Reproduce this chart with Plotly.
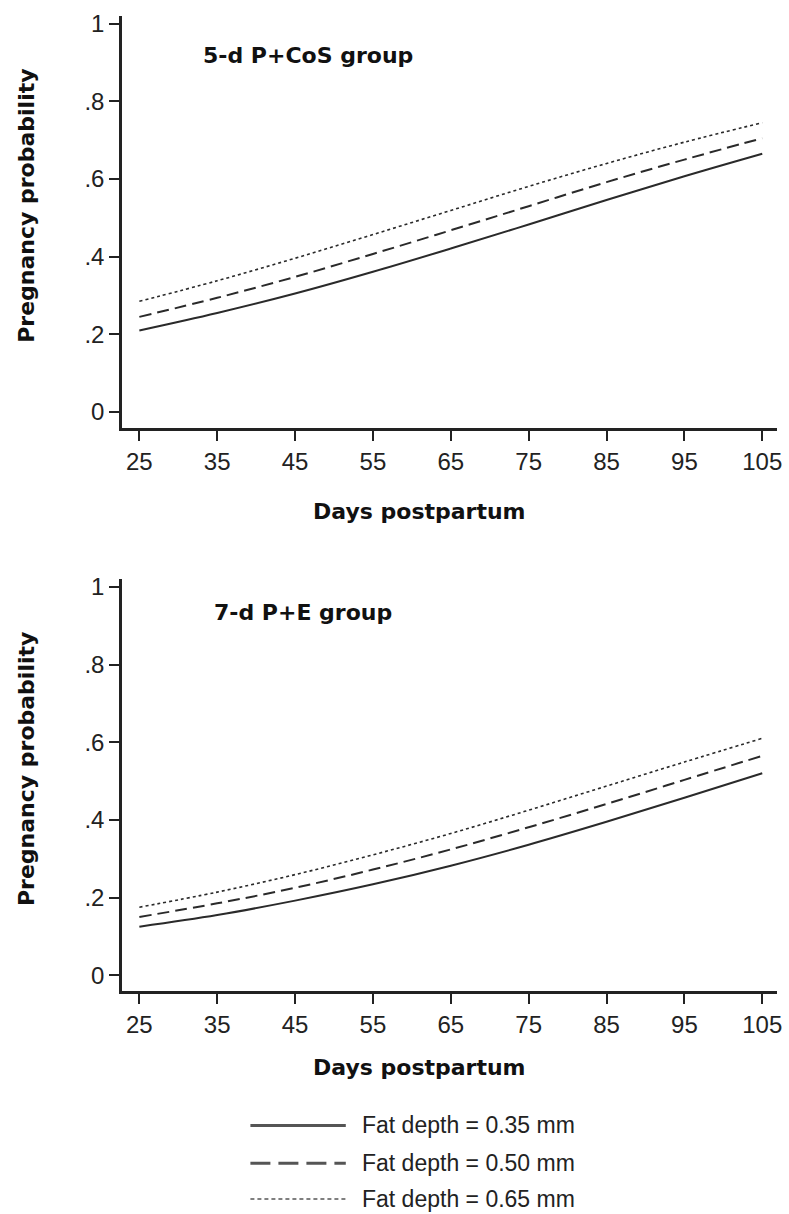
import plotly.graph_objects as go

days = [25, 35, 45, 55, 65, 75, 85, 95, 105]
series_names = ["Fat depth = 0.35 mm", "Fat depth = 0.50 mm", "Fat depth = 0.65 mm"]

# 5-d P+CoS group
cos_035 = [0.210, 0.255, 0.305, 0.361, 0.421, 0.483, 0.546, 0.607, 0.665]
cos_050 = [0.245, 0.294, 0.348, 0.407, 0.468, 0.530, 0.592, 0.650, 0.705]
cos_065 = [0.285, 0.338, 0.396, 0.457, 0.519, 0.581, 0.640, 0.695, 0.745]

# 7-d P+E group
pe_035 = [0.125, 0.155, 0.192, 0.234, 0.282, 0.336, 0.395, 0.457, 0.520]
pe_050 = [0.150, 0.185, 0.225, 0.272, 0.324, 0.381, 0.441, 0.503, 0.565]
pe_065 = [0.175, 0.214, 0.259, 0.310, 0.365, 0.425, 0.487, 0.549, 0.610]

x_ticks = [25, 35, 45, 55, 65, 75, 85, 95, 105]
y_ticks = [0, 0.2, 0.4, 0.6, 0.8, 1]
y_tick_labels = ["0", ".2", ".4", ".6", ".8", "1"]

panel_titles = ["5-d P+CoS group", "7-d P+E group"]
x_title = "Days postpartum"
y_title = "Pregnancy probability"

W, H = 789, 1214
line_color = "#2a2a2a"
dashes = ["solid", "12px,6px", "3px,3px"]
widths = [2, 2, 1.6]

fig = go.Figure()
for ax_i, data in enumerate([(cos_035, cos_050, cos_065), (pe_035, pe_050, pe_065)]):
    sfx = "" if ax_i == 0 else "2"
    for s_i, vals in enumerate(data):
        fig.add_trace(go.Scatter(
            x=days, y=vals, mode="lines", name=series_names[s_i],
            line=dict(color=line_color, width=widths[s_i], dash=dashes[s_i], shape="spline"),
            xaxis="x" + sfx, yaxis="y" + sfx, showlegend=False))

def px_x(p):
    return p / W

def px_y(p):
    return 1 - p / H

tick_font = dict(family="Liberation Sans, Arial", size=24, color="#222")
title_font = dict(family="DejaVu Sans", size=22, color="#111")

xdom = [px_x(123), px_x(782)]
doms = [[px_y(424), px_y(10)], [px_y(990), px_y(576)]]

axis_common = dict(showline=True, linecolor="#222", linewidth=3, ticks="outside",
                   ticklen=10, tickwidth=2, tickcolor="#222", showgrid=False,
                   zeroline=False, tickfont=tick_font)

layout = dict(width=W, height=H, margin=dict(l=0, r=0, t=0, b=0),
              paper_bgcolor="white", plot_bgcolor="white", showlegend=False)
for i in range(2):
    sfx = "" if i == 0 else "2"
    layout["xaxis" + sfx] = dict(axis_common, domain=xdom, range=[22.8, 106.9],
                                 tickvals=x_ticks, anchor="y" + sfx)
    layout["yaxis" + sfx] = dict(axis_common, domain=doms[i], range=[-0.041, 1.02],
                                 tickvals=y_ticks, ticktext=y_tick_labels, anchor="x" + sfx)
fig.update_layout(**layout)

annotations = []
# panel titles
for i, (xpx, ypx) in enumerate([(202, 50), (213, 610)]):
    annotations.append(dict(text="<b>" + panel_titles[i] + "</b>", xref="paper", yref="paper",
                            x=px_x(xpx), y=px_y(ypx), xanchor="left", yanchor="middle",
                            showarrow=False, font=title_font))
# x titles
for ypx in [508, 1067]:
    annotations.append(dict(text="<b>" + x_title + "</b>", xref="paper", yref="paper",
                            x=px_x(422), y=px_y(ypx), xanchor="center", yanchor="middle",
                            showarrow=False, font=title_font))
# y titles
for ypx in [201, 767]:
    annotations.append(dict(text="<b>" + y_title + "</b>", xref="paper", yref="paper",
                            x=px_x(26), y=px_y(ypx), xanchor="center", yanchor="middle",
                            textangle=-90, showarrow=False, font=title_font))

# legend (manual)
legend_rows = [1125, 1163, 1199]
legend_dash = ["solid", "20px,8px", "4px,3px"]
legend_w = [3, 3, 1.5]
shapes = []
for i, ypx in enumerate(legend_rows):
    shapes.append(dict(type="line", xref="paper", yref="paper",
                       x0=px_x(252), x1=px_x(348), y0=px_y(ypx), y1=px_y(ypx),
                       line=dict(color="#555", width=legend_w[i], dash=legend_dash[i])))
    annotations.append(dict(text=series_names[i], xref="paper", yref="paper",
                            x=px_x(362), y=px_y(ypx), xanchor="left", yanchor="middle",
                            showarrow=False, font=dict(family="Liberation Sans, Arial", size=23, color="#222")))

fig.update_layout(annotations=annotations, shapes=shapes)
fig.write_html("out.html", config={"displayModeBar": False},
               post_script="document.body.style.margin='0';document.body.style.overflow='hidden';")
